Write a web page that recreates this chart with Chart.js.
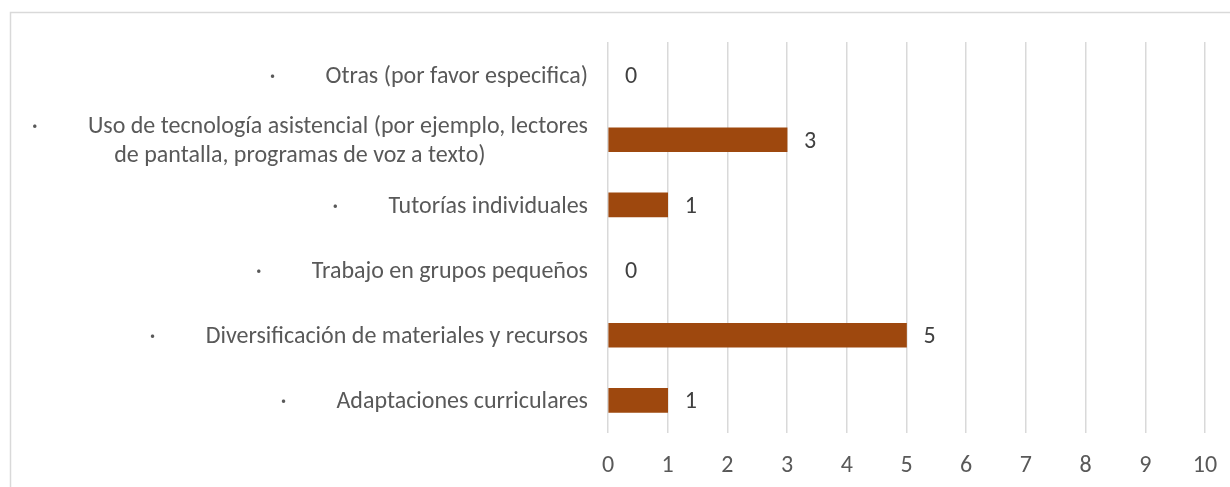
<!DOCTYPE html>
<html>
<head>
<meta charset="utf-8">
<script src="https://cdn.jsdelivr.net/npm/chart.js@4/dist/chart.umd.min.js"></script>
<style>
  html, body { margin: 0; padding: 0; background: #ffffff; }
  #wrap { width: 1230px; height: 487px; position: relative; }
</style>
</head>
<body>
<div id="wrap"><canvas id="c" width="1230" height="487"></canvas></div>
<script>
// ---- data ----
const categories = [
  "Otras (por favor especifica)",
  "Uso de tecnología asistencial (por ejemplo, lectores|de pantalla, programas de voz a texto)",
  "Tutorías individuales",
  "Trabajo en grupos pequeños",
  "Diversificación de materiales y recursos",
  "Adaptaciones curriculares"
];
const values = [0, 3, 1, 0, 5, 1];
const xTicks = [0, 1, 2, 3, 4, 5, 6, 7, 8, 9, 10];

const FONT = "Carlito, Lato, 'Open Sans', sans-serif";
const FS_CAT = 24;
const FS_TICK = 24;
const FS_VAL = 24;
const BAR = "#9E480E";

const decorPlugin = {
  id: "decor",
  beforeDraw(chart) {
    const ctx = chart.ctx;
    ctx.save();
    ctx.strokeStyle = "#d9d9d9";
    ctx.lineWidth = 1.5;
    ctx.strokeRect(10.5, 12.5, 1400, 700);
    ctx.restore();
  },
  afterDatasetsDraw(chart) {
    const ctx = chart.ctx;
    const ys = chart.scales.y, xs = chart.scales.x;
    ctx.save();
    ctx.textBaseline = "middle";
    const rightX = 588;
    const gap = 50;
    categories.forEach((cat, i) => {
      const y = ys.getPixelForValue(i) + 2;
      const lines = cat.split("|");
      ctx.font = FS_CAT + "px " + FONT;
      ctx.fillStyle = "#595959";
      const dotW = ctx.measureText("·").width;
      const w0 = ctx.measureText(lines[0]).width + gap + dotW;
      let blockW = w0;
      lines.forEach((l, k) => { if (k > 0) blockW = Math.max(blockW, ctx.measureText(l).width); });
      const lh = 29;
      const top = y - (lines.length - 1) * lh / 2;
      lines.forEach((l, k) => {
        const ly = top + k * lh;
        if (k === 0) {
          ctx.textAlign = "right";
          ctx.fillText(l, rightX, ly);
          const tw = ctx.measureText(l).width;
          ctx.fillText("·", rightX - tw - gap, ly);
        } else {
          ctx.textAlign = "center";
          ctx.fillText(l, rightX - blockW / 2 - 10, ly);
        }
      });
      // data labels
      ctx.font = FS_VAL + "px " + FONT;
      ctx.fillStyle = "#404040";
      ctx.textAlign = "left";
      ctx.fillText(String(values[i]), xs.getPixelForValue(values[i]) + 17, y);
    });
    ctx.restore();
  }
};

new Chart(document.getElementById("c"), {
  type: "bar",
  data: {
    labels: categories,
    datasets: [{
      data: values,
      backgroundColor: (c) => (values[c.dataIndex] === 0 ? "rgba(0,0,0,0)" : BAR),
      borderWidth: 0,
      barThickness: 24
    }]
  },
  options: {
    indexAxis: "y",
    responsive: false,
    animation: false,
    devicePixelRatio: 1,
    layout: { padding: { left: 600, right: 25, top: 42, bottom: 8 } },
    plugins: { legend: { display: false }, tooltip: { enabled: false } },
    scales: {
      x: {
        min: 0, max: 10,
        afterBuildTicks(scale) { scale.ticks = xTicks.map(v => ({ value: v })); },
        afterFit(scale) { scale.height = 46; scale.paddingLeft = 0; scale.paddingRight = 0; },
        grid: { color: "#d9d9d9", lineWidth: 1.5, drawTicks: false },
        border: { display: false },
        ticks: { color: "#595959", font: { family: FONT, size: FS_TICK }, padding: 19 }
      },
      y: {
        ticks: { display: false },
        grid: { display: false },
        border: { display: false }
      }
    }
  },
  plugins: [decorPlugin]
});
</script>
</body>
</html>
